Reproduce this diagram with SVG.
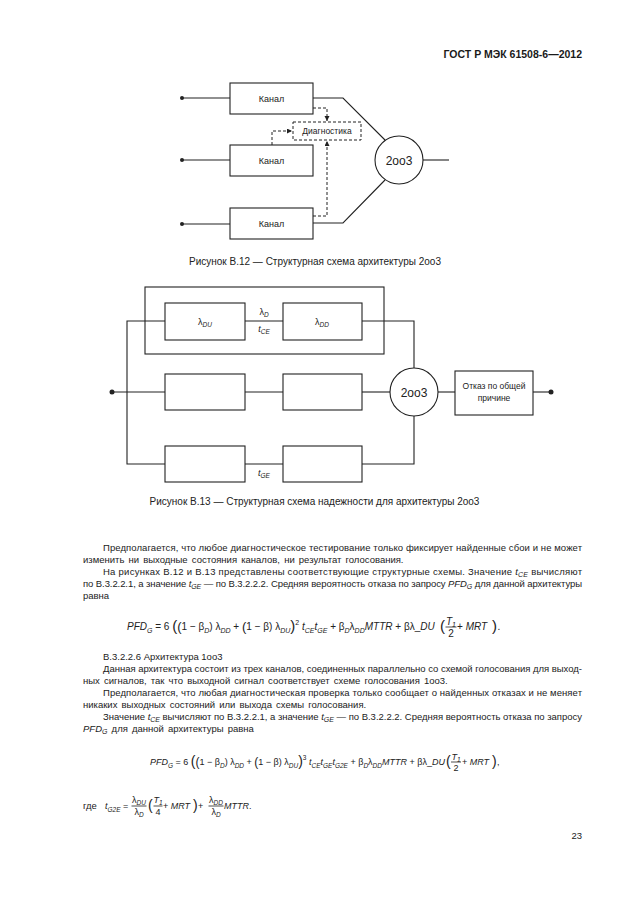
<svg xmlns="http://www.w3.org/2000/svg" width="630" height="913" viewBox="0 0 630 913">
<style>
.t{font-family:"Liberation Sans",Arial,sans-serif;font-size:9px;fill:#222}
.b{font-size:9.5px}
.cap{font-size:10px}
.ws{word-spacing:1.5px}
.h{font-family:"Liberation Sans",Arial,sans-serif;font-size:10.5px;font-weight:bold;fill:#1a1a1a}
.c{text-anchor:middle}
.i{font-style:italic}
.sb{font-size:6.5px}
.bg{font-size:14px}
.md{font-size:12px}
.f1{font-size:10px}
.f1 .sb{font-size:7px}
.f1 .bg{font-size:15px}
.f1 .md{font-size:13px}
.b .sb{font-size:7px}
.ln{fill:none;stroke:#222;stroke-width:1.1}
.bx{fill:#fff;stroke:#222;stroke-width:1.1}
.ds{fill:none;stroke:#222;stroke-width:1;stroke-dasharray:3,2}
.dot{fill:#222}
</style>
<defs>
<marker id="ar" markerUnits="userSpaceOnUse" markerWidth="6" markerHeight="6" refX="5" refY="2.5" orient="auto">
<path d="M0,0 L5,2.5 L0,5 z" fill="#222"/>
</marker>
</defs>
<rect width="630" height="913" fill="#fff"/>
<text class="h" x="582" y="58" text-anchor="end">ГОСТ Р МЭК 61508-6—2012</text>

<!-- Figure B.12 -->
<g id="fig12-connectors">
<line class="ln" x1="182" y1="98" x2="230" y2="98"/>
<line class="ln" x1="182" y1="160" x2="230" y2="160"/>
<line class="ln" x1="182" y1="224" x2="230" y2="224"/>
<circle class="dot" cx="182" cy="98" r="2"/>
<circle class="dot" cx="182" cy="160" r="2"/>
<circle class="dot" cx="182" cy="224" r="2"/>
<polyline class="ln" points="313,98 343,98 385,140"/>
<polyline class="ln" points="313,223 343,223 385,180"/>
<line class="ln" x1="423" y1="160" x2="449" y2="160"/>
<polyline class="ds" points="313,108 327,108 327,121" marker-end="url(#ar)"/>
<polyline class="ds" points="272,145 272,131 292,131" marker-end="url(#ar)"/>
<polyline class="ds" points="313,216 327,216 327,141" marker-end="url(#ar)"/>
</g>
<g id="kanal1"><rect class="bx" x="230" y="83" width="83" height="31"/><text class="t c" x="271.5" y="101.5">Канал</text></g>
<g id="kanal2"><rect class="bx" x="230" y="145" width="83" height="31"/><text class="t c" x="271.5" y="163.5">Канал</text></g>
<g id="kanal3"><rect class="bx" x="230" y="208" width="83" height="31"/><text class="t c" x="271.5" y="226.5">Канал</text></g>
<g id="diag"><rect class="ds" x="293" y="122" width="68" height="18"/><text class="t c" x="327" y="134" style="font-size:8.5px">Диагностика</text></g>
<g id="vote12"><circle class="bx" cx="399" cy="160" r="24"/><text class="t c" x="399" y="164.5" style="font-size:12px">2oo3</text></g>
<text class="t cap c" x="315" y="265">Рисунок В.12 — Структурная схема архитектуры 2oo3</text>

<!-- Figure B.13 -->
<g id="fig13-connectors">
<line class="ln" x1="112" y1="392" x2="165" y2="392"/>
<circle class="dot" cx="112" cy="392" r="2.5"/>
<polyline class="ln" points="165,321 127,321 127,464 165,464"/>
<line class="ln" x1="245" y1="321" x2="283" y2="321"/>
<polyline class="ln" points="362,321 414,321 414,368"/>
<line class="ln" x1="245" y1="392" x2="283" y2="392"/>
<line class="ln" x1="362" y1="392" x2="390" y2="392"/>
<line class="ln" x1="245" y1="464" x2="283" y2="464"/>
<polyline class="ln" points="362,464 414,464 414,416"/>
<line class="ln" x1="438" y1="392" x2="455" y2="392"/>
<line class="ln" x1="533" y1="392" x2="551" y2="392"/>
<circle class="dot" cx="551" cy="392" r="2.5"/>
</g>
<g id="group1"><rect class="ln" x="145" y="287" width="239" height="67"/></g>
<g id="ldu"><rect class="bx" x="165" y="303" width="80" height="37"/><text class="t c" x="205" y="325">λ<tspan class="sb i" dy="2">DU</tspan></text></g>
<g id="ldd"><rect class="bx" x="283" y="303" width="79" height="37"/><text class="t c" x="322" y="325">λ<tspan class="sb i" dy="2">DD</tspan></text></g>
<g id="r2a"><rect class="bx" x="165" y="374" width="80" height="36"/></g>
<g id="r2b"><rect class="bx" x="283" y="374" width="79" height="36"/></g>
<g id="r3a"><rect class="bx" x="165" y="446" width="80" height="36"/></g>
<g id="r3b"><rect class="bx" x="283" y="446" width="79" height="36"/></g>
<text class="t c" x="264" y="315">λ<tspan class="sb i" dy="2">D</tspan></text>
<text class="t c i" x="264" y="332">t<tspan class="sb" dy="2">CE</tspan></text>
<text class="t c i" x="264" y="476">t<tspan class="sb" dy="2">GE</tspan></text>
<g id="vote13"><circle class="bx" cx="414" cy="392" r="24"/><text class="t c" x="414" y="396.5" style="font-size:12px">2oo3</text></g>
<g id="ccf"><rect class="bx" x="455" y="371" width="78" height="44"/><text class="t c" x="494" y="389" style="font-size:8.5px">Отказ по общей</text><text class="t c" x="494" y="401" style="font-size:8.5px">причине</text></g>
<text class="t cap c" x="314.5" y="505">Рисунок В.13 — Структурная схема надежности для архитектуры 2oo3</text>

<!-- Body text -->
<text class="t b" x="103" y="551" textLength="479" lengthAdjust="spacing">Предполагается, что любое диагностическое тестирование только фиксирует найденные сбои и не может</text>
<text class="t b ws" x="83" y="563">изменить ни выходные состояния каналов, ни результат голосования.</text>
<text class="t b" x="103" y="575" textLength="479" lengthAdjust="spacing">На рисунках В.12 и В.13 представлены соответствующие структурные схемы.  Значение <tspan class="i">t</tspan><tspan class="sb i" dy="2">CE</tspan><tspan dy="-2">  вычисляют</tspan></text>
<text class="t b" x="83" y="587" textLength="499" lengthAdjust="spacing">по В.3.2.2.1, а значение <tspan class="i">t</tspan><tspan class="sb i" dy="2">GE</tspan><tspan dy="-2"> — по В.3.2.2.2. Средняя вероятность отказа по запросу </tspan><tspan class="i">PFD</tspan><tspan class="sb i" dy="2">G</tspan><tspan dy="-2">  для данной архитектуры</tspan></text>
<text class="t b" x="83" y="599">равна</text>

<!-- Formula 1 -->
<g id="formula1" class="f1">
<text class="t f1" x="127" y="630"><tspan class="i">PFD</tspan><tspan class="sb i" dy="2.8">G</tspan><tspan dy="-2.8"> = 6 </tspan><tspan class="bg" dy="1">(</tspan><tspan class="md" dy="-0.5">(</tspan><tspan dy="-0.5">1 − β</tspan><tspan class="sb i" dy="2.8">D</tspan><tspan dy="-2.8">) λ</tspan><tspan class="sb i" dy="2.8">DD</tspan><tspan dy="-2.8"> + </tspan><tspan class="md" dy="0.5">(</tspan><tspan dy="-0.5">1 − β) λ</tspan><tspan class="sb i" dy="2.8">DU</tspan><tspan class="bg" dy="-1.8">)</tspan><tspan class="sb" dy="-6.5">2</tspan><tspan class="i" dy="5.5"> t</tspan><tspan class="sb i" dy="2.8">CE</tspan><tspan class="i" dy="-2.8">t</tspan><tspan class="sb i" dy="2.8">GE</tspan><tspan dy="-2.8"> + β</tspan><tspan class="sb i" dy="2.8">D</tspan><tspan dy="-2.8">λ</tspan><tspan class="sb i" dy="2.8">DD</tspan><tspan class="i" dy="-2.8">MTTR</tspan><tspan> + βλ_</tspan><tspan class="i">DU</tspan></text>
<text class="t f1 bg" x="440" y="631">(</text>
<text class="t f1 c i" x="451" y="624.5">T<tspan class="sb" dy="2">1</tspan></text>
<line class="ln" x1="445.5" y1="627" x2="456.5" y2="627" style="stroke-width:0.8"/>
<text class="t f1 c" x="451" y="637">2</text>
<text class="t f1" x="457" y="630"> + <tspan class="i">MRT</tspan></text>
<text class="t f1 bg" x="492" y="631">)</text>
<text class="t f1" x="497.5" y="630">.</text>
</g>

<text class="t b" x="103" y="660">В.3.2.2.6 Архитектура 1oo3</text>
<text class="t b" x="103" y="672" textLength="479" lengthAdjust="spacing">Данная архитектура состоит из трех каналов, соединенных параллельно со схемой голосования для выход-</text>
<text class="t b ws" x="83" y="684">ных сигналов, так что выходной сигнал соответствует схеме голосования 1oo3.</text>
<text class="t b" x="103" y="696" textLength="479" lengthAdjust="spacing">Предполагается, что любая диагностическая проверка только сообщает о найденных отказах и не меняет</text>
<text class="t b ws" x="83" y="708">никаких выходных состояний или выхода схемы голосования.</text>
<text class="t b" x="103" y="720" textLength="479" lengthAdjust="spacing">Значение <tspan class="i">t</tspan><tspan class="sb i" dy="2">CE</tspan><tspan dy="-2"> вычисляют по В.3.2.2.1, а значение </tspan><tspan class="i">t</tspan><tspan class="sb i" dy="2">GE</tspan><tspan dy="-2"> — по В.3.2.2.2. Средняя вероятность отказа по запросу</tspan></text>
<text class="t b ws" x="83" y="732"><tspan class="i">PFD</tspan><tspan class="sb i" dy="2">G</tspan><tspan dy="-2">  для данной архитектуры равна</tspan></text>

<!-- Formula 2 -->
<g id="formula2">
<text class="t" x="150" y="765"><tspan class="i">PFD</tspan><tspan class="sb i" dy="2.5">G</tspan><tspan dy="-2.5"> = 6 </tspan><tspan class="bg" dy="1">(</tspan><tspan class="md" dy="-0.5">(</tspan><tspan dy="-0.5">1 − β</tspan><tspan class="sb i" dy="2.5">D</tspan><tspan dy="-2.5">) λ</tspan><tspan class="sb i" dy="2.5">DD</tspan><tspan dy="-2.5"> + </tspan><tspan class="md" dy="0.5">(</tspan><tspan dy="-0.5">1 − β) λ</tspan><tspan class="sb i" dy="2.5">DU</tspan><tspan class="bg" dy="-1.5">)</tspan><tspan class="sb" dy="-6">3</tspan><tspan class="i" dy="5"> t</tspan><tspan class="sb i" dy="2.5">CE</tspan><tspan class="i" dy="-2.5">t</tspan><tspan class="sb i" dy="2.5">GE</tspan><tspan class="i" dy="-2.5">t</tspan><tspan class="sb i" dy="2.5">G2E</tspan><tspan dy="-2.5"> + β</tspan><tspan class="sb i" dy="2.5">D</tspan><tspan dy="-2.5">λ</tspan><tspan class="sb i" dy="2.5">DD</tspan><tspan class="i" dy="-2.5">MTTR</tspan><tspan> + βλ_</tspan><tspan class="i">DU</tspan></text>
<text class="t bg" x="446" y="766">(</text>
<text class="t c i" x="456" y="760">T<tspan class="sb" dy="2">1</tspan></text>
<line class="ln" x1="451" y1="762" x2="461" y2="762" style="stroke-width:0.8"/>
<text class="t c" x="456" y="771">2</text>
<text class="t" x="462" y="765"> + <tspan class="i">MRT</tspan></text>
<text class="t bg" x="492" y="766">)</text>
<text class="t" x="497" y="765">,</text>
</g>

<!-- Formula 3 -->
<g id="formula3">
<text class="t b" x="83" y="809">где</text>
<text class="t i" x="105" y="809">t<tspan class="sb" dy="2.5">G2E</tspan><tspan dy="-2.5" style="font-style:normal"> = </tspan></text>
<text class="t c" x="139" y="803">λ<tspan class="sb i" dy="2">DU</tspan></text>
<line class="ln" x1="131.5" y1="806" x2="146.5" y2="806" style="stroke-width:0.8"/>
<text class="t c" x="139" y="815">λ<tspan class="sb i" dy="2">D</tspan></text>
<text class="t bg" x="148" y="810">(</text>
<text class="t c i" x="158" y="803">T<tspan class="sb" dy="2">1</tspan></text>
<line class="ln" x1="153.5" y1="806" x2="162.5" y2="806" style="stroke-width:0.8"/>
<text class="t c" x="158" y="815">4</text>
<text class="t" x="163" y="809"> + <tspan class="i">MRT</tspan></text>
<text class="t bg" x="193" y="810">)</text>
<text class="t" x="198" y="809"> + </text>
<text class="t c" x="216" y="803">λ<tspan class="sb i" dy="2">DD</tspan></text>
<line class="ln" x1="208.5" y1="806" x2="223.5" y2="806" style="stroke-width:0.8"/>
<text class="t c" x="216" y="815">λ<tspan class="sb i" dy="2">D</tspan></text>
<text class="t" x="224" y="809"><tspan class="i">MTTR</tspan>.</text>
</g>

<text class="t b" x="582" y="839" text-anchor="end">23</text>
</svg>
